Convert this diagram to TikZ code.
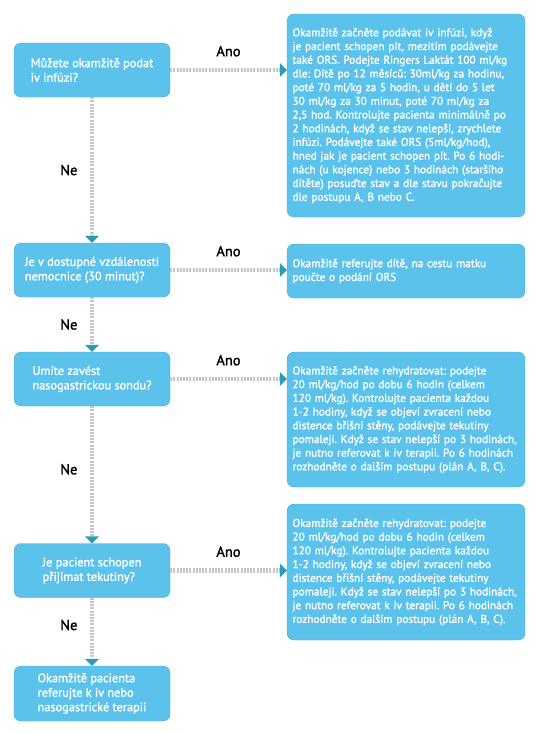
\documentclass[tikz,border=0pt]{standalone}
\usepackage{fontspec}
\setmainfont{PT Sans}
\newfontfamily\mediumfont{PT Sans}[FakeBold=1.6]
\usetikzlibrary{arrows.meta, positioning}
\definecolor{boxblue}{HTML}{5BC2EC}
\definecolor{boxline}{HTML}{45ADD6}
\definecolor{tipteal}{HTML}{2A9CB8}
\definecolor{dotgray}{HTML}{C6C6C6}
\frenchspacing

\begin{document}
\begin{tikzpicture}[x=1pt, y=-1pt,
    question/.style={draw=boxline, fill=boxblue, rounded corners=7pt, minimum width=156pt, minimum height=54pt, align=left, text=white, font=\mediumfont\fontsize{12.3}{14.5}\selectfont},
    answer/.style={draw=boxline, fill=boxblue, rounded corners=7pt, text width=227pt, inner xsep=5.5pt, align=left, text=white, font=\mediumfont\fontsize{11.3}{13.7}\selectfont},
    flow/.style={draw=dotgray, line width=4.5pt, dash pattern=on 2pt off 1.2pt, -{Triangle[width=14pt, length=7pt, color=tipteal, line width=0pt]}},
    tag/.style={font=\mediumfont\fontsize{14.5}{16}\selectfont, text=black}
]
    \useasboundingbox (0,0) rectangle (540,734);

    % questions on the left
    \node[question] at (92,70) (q1) {Můžete okamžitě podat\\iv infúzi?};
    \node[question] at (92,270) (q2) {Je v dostupné vzdálenosti\\nemocnice (30 minut)?};
    \node[question] at (92,379) (q3) {Umíte zavést\\nasogastrickou sondu?};
    \node[question] at (92,570.5) (q4) {Je pacient schopen\\přijímat tekutiny?};
    \node[question, minimum height=55pt] at (92,693.5) (q5) {Okamžitě pacienta\\referujte k iv nebo\\nasogastrické terapii};

    % what to do on the right
    \node[answer, minimum height=203pt] at (406,115.5) (r1) {Okamžitě začněte podávat iv infúzi, když\\je pacient schopen pít, mezitím podávejte\\také ORS. Podejte Ringers Laktát 100 ml/kg\\dle: Dítě po 12 měsíců: 30ml/kg za hodinu,\\poté 70 ml/kg za 5 hodin, u dětí do 5 let\\30 ml/kg za 30 minut, poté 70 ml/kg za\\2,5 hod. Kontrolujte pacienta minimálně po\\2 hodinách, když se stav nelepší, zrychlete\\infúzi. Podávejte také ORS (5ml/kg/hod),\\hned jak je pacient schopen pít. Po 6 hodi-\\nách (u kojence) nebo 3 hodinách (staršího\\dítěte) posuďte stav a dle stavu pokračujte\\dle postupu A, B nebo C.};
    \node[answer, minimum height=54pt] at (406,271) (r2) {Okamžitě referujte dítě, na cestu matku\\poučte o podání ORS};
    \node[answer, minimum height=135pt] at (406,419.5) (r3) {Okamžitě začněte rehydratovat: podejte\\20 ml/kg/hod po dobu 6 hodin (celkem\\120 ml/kg). Kontrolujte pacienta každou\\1-2 hodiny, když se objeví zvracení nebo\\distence břišní stěny, podávejte tekutiny\\pomaleji. Když se stav nelepší po 3 hodinách,\\je nutno referovat k iv terapii. Po 6 hodinách\\rozhodněte o dalším postupu (plán A, B, C).};
    \node[answer, minimum height=136pt] at (406,572) (r4) {Okamžitě začněte rehydratovat: podejte\\20 ml/kg/hod po dobu 6 hodin (celkem\\120 ml/kg). Kontrolujte pacienta každou\\1-2 hodiny, když se objeví zvracení nebo\\distence břišní stěny, podávejte tekutiny\\pomaleji. Když se stav nelepší po 3 hodinách,\\je nutno referovat k iv terapii. Po 6 hodinách\\rozhodněte o dalším postupu (plán A, B, C).};

    % Ano
    \draw[flow] (q1.east) -- node[tag, above=8pt] {Ano} (q1.east -| r1.west);
    \draw[flow] (q2.east) -- node[tag, above=8pt] {Ano} (q2.east -| r2.west);
    \draw[flow] (q3.east) -- node[tag, above=8pt] {Ano} (q3.east -| r3.west);
    \draw[flow] (q4.east) -- node[tag, above=8pt] {Ano} (q4.east -| r4.west);

    % Ne
    \draw[flow] (q1) -- node[tag, left=9pt] {Ne} (q2);
    \draw[flow] (q2) -- node[tag, left=9pt] {Ne} (q3);
    \draw[flow] (q3) -- node[tag, left=9pt, pos=0.46] {Ne} (q4);
    \draw[flow] (q4) -- node[tag, left=9pt, pos=0.4] {Ne} (q5);
\end{tikzpicture}
\end{document}
